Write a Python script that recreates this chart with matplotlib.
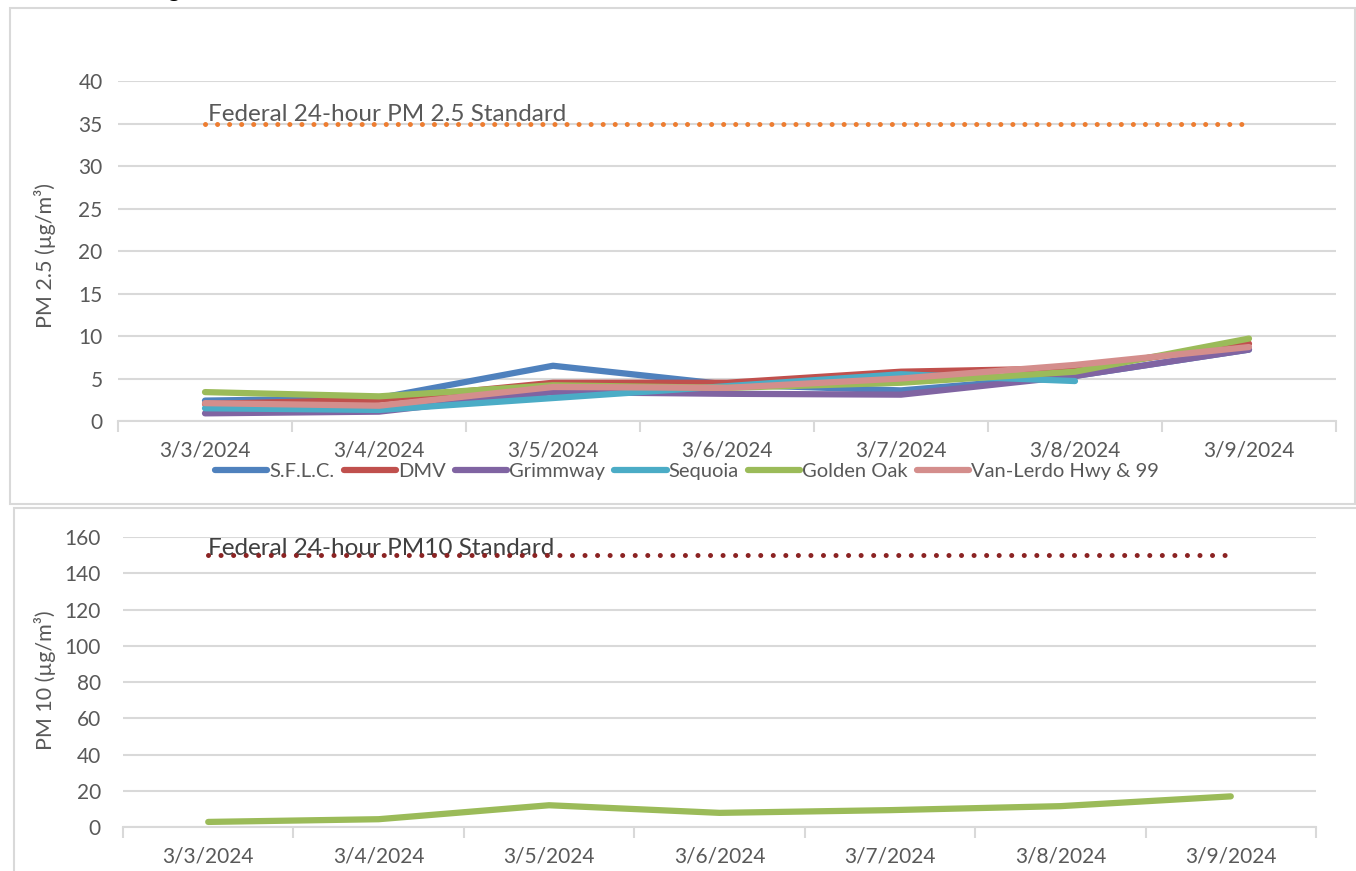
import numpy as np
import matplotlib.pyplot as plt
from matplotlib.patches import Rectangle
from matplotlib.lines import Line2D

plt.rcParams['font.family'] = ['Lato', 'DejaVu Sans']

# data
dates = ['3/3/2024', '3/4/2024', '3/5/2024', '3/6/2024', '3/7/2024', '3/8/2024', '3/9/2024']
sites = ['S.F.L.C.', 'DMV', 'Grimmway', 'Sequoia', 'Golden Oak', 'Van-Lerdo Hwy & 99']
pm25_sflc = [2.4, 2.7, 6.5, 4.3, 3.6, 5.3, 8.4]
pm25_dmv = [2.0, 2.5, 4.5, 4.5, 5.8, 6.2, 9.1]
pm25_grimmway = [0.9, 1.1, 3.4, 3.2, 3.1, 5.3, 8.4]
pm25_sequoia = [1.5, 1.3, 2.7, 4.1, 5.5, 4.7, np.nan]
pm25_golden_oak = [3.4, 2.9, 4.2, 3.9, 4.5, 5.8, 9.7]
pm25_vanlerdo = [2.1, 1.8, 4.0, 3.9, 5.0, 6.6, 8.7]
pm10_golden_oak = [2.8, 4.3, 12.0, 7.8, 9.3, 11.5, 16.9]
pm25_standard = 35
pm10_standard = 150

pm25_series = [pm25_sflc, pm25_dmv, pm25_grimmway, pm25_sequoia, pm25_golden_oak, pm25_vanlerdo]
colors = ['#4F81BD', '#C0504D', '#8064A2', '#4BACC6', '#9BBB59', '#D48E8C']

W, H = 1356, 871
fig = plt.figure(figsize=(W / 100, H / 100), dpi=100)

grid_c = '#D9D9D9'
txt_c = '#595959'
x = np.arange(len(dates))


def style_axis(ax, ymax, step, ypad):
    ax.set_xlim(-0.5, len(dates) - 0.5)
    ax.set_ylim(0, ymax)
    ax.set_yticks(np.arange(0, ymax + 1, step))
    ax.set_xticks(x)
    ax.set_xticklabels(dates)
    ax.set_xticks(np.arange(-0.5, len(dates), 1), minor=True)
    ax.tick_params(axis='x', which='major', length=0, pad=14, labelsize=15, labelcolor=txt_c)
    ax.tick_params(axis='x', which='minor', length=8, width=1.5, color=grid_c)
    ax.tick_params(axis='y', length=0, pad=ypad, labelsize=15, labelcolor=txt_c)
    ax.grid(axis='y', color=grid_c, lw=1.5)
    ax.set_axisbelow(True)
    for s in ['left', 'top', 'right']:
        ax.spines[s].set_visible(False)
    ax.spines['bottom'].set_color(grid_c)
    ax.spines['bottom'].set_linewidth(1.5)


# chart borders
fig.add_artist(Rectangle((10 / W, 1 - 504 / H), 1345 / W, 496 / H, transform=fig.transFigure,
                         fill=False, edgecolor=grid_c, lw=1.5))
fig.add_artist(Rectangle((14 / W, -0.01), 1.1, 1 - 508 / H + 0.01, transform=fig.transFigure,
                         fill=False, edgecolor=grid_c, lw=1.5))

# PM 2.5 chart
ax1 = fig.add_axes([118 / W, 1 - 421 / H, 1218 / W, 340 / H])
style_axis(ax1, 40, 5, 11)
ax1.plot(x, [pm25_standard] * len(x), color='#ED7D31', lw=3.6,
         linestyle=(0, (0.01, 2.4)), dash_capstyle='round')
ax1.text(0.02, 35.3, 'Federal 24-hour PM 2.5 Standard', fontsize=17.5, color=txt_c, va='baseline')
for vals, c in zip(pm25_series, colors):
    ax1.plot(x, vals, color=c, lw=4.5, solid_capstyle='round', solid_joinstyle='round')
fig.text(45 / W, 1 - 255 / H, 'PM 2.5 (µg/m³)', rotation=90, ha='center', va='center',
         fontsize=15.5, color=txt_c)

handles = [Line2D([0], [0], color=c, lw=4.5, solid_capstyle='round') for c in colors]
fig.legend(handles, sites, loc='center', bbox_to_anchor=(687 / W, 1 - 471 / H), ncol=6,
           frameon=False, fontsize=14.5, labelcolor=txt_c, handlelength=2.6,
           handletextpad=0.1, columnspacing=0.45)

# PM 10 chart
ax2 = fig.add_axes([123 / W, 1 - 827 / H, 1193 / W, 290 / H])
style_axis(ax2, 160, 20, 16)
ax2.text(0.0, 150, 'Federal 24-hour PM10 Standard', fontsize=17.5, color='#404040',
         va='baseline', zorder=2)
ax2.plot(x, [pm10_standard] * len(x), color='#8B2323', lw=3.6,
         linestyle=(0, (0.01, 2.5)), dash_capstyle='round', zorder=3)
ax2.plot(x, pm10_golden_oak, color=colors[4], lw=4.5, solid_capstyle='round', solid_joinstyle='round')
fig.text(45 / W, 1 - 680 / H, 'PM 10 (µg/m³)', rotation=90, ha='center', va='center',
         fontsize=15.5, color=txt_c)

# cut-off heading fragment at the very top
fig.text(167 / W, 1 + 3 / H, 'g', fontsize=17, fontweight='bold', color='black', va='baseline')

fig.savefig('out.png', dpi=100)
